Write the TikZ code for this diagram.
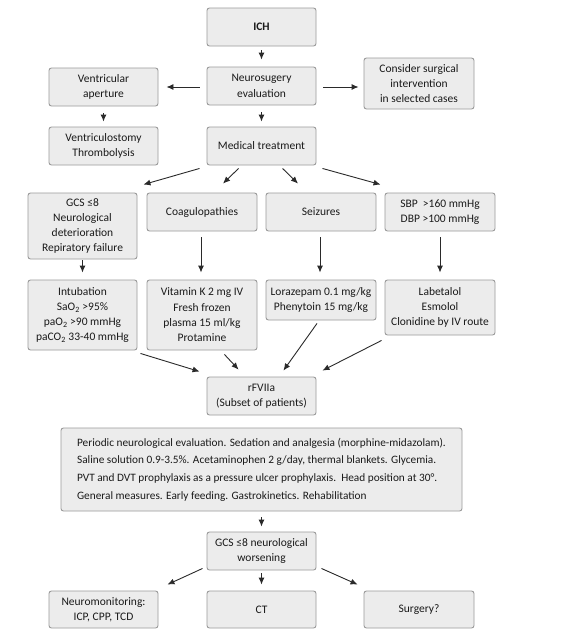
\documentclass[tikz,border=0pt]{standalone}
\usepackage{fontspec}
\setmainfont{Carlito}
\usetikzlibrary{calc,arrows.meta}
\definecolor{boxfill}{HTML}{ECECEC}
\definecolor{boxline}{HTML}{9A9A9A}
\definecolor{txt}{HTML}{1A1A1A}
\definecolor{arrcol}{HTML}{2A2A2A}
\begin{document}
\begin{tikzpicture}[x=1pt,y=-1pt,
  box/.style={draw=boxline,fill=boxfill,line width=0.9pt,rounded corners=2.5pt,
    align=center,inner sep=2pt,text=txt,minimum width=109pt,minimum height=38pt,
    font=\fontsize{11.5}{15.3}\selectfont},
  arr/.style={draw=arrcol,line width=0.9pt,-{Latex[length=7pt,width=6pt]}}]
\useasboundingbox (0,0) rectangle (566,637);
\fill[white] (0,0) rectangle (566,637);
% row 1
\node[box] (ich) at (261.5,27) {\textbf{ICH}};
\node[box] (neuro) at (261.5,86) {Neurosugery\\evaluation};
\node[box] (vent) at (103.5,87) {Ventricular\\aperture};
\node[box,minimum width=110pt,minimum height=51pt] (cons) at (419,83.5) {Consider surgical\\intervention\\in selected cases};
\node[box] (vstomy) at (103.5,146) {Ventriculostomy\\Thrombolysis};
\node[box] (med) at (261.5,146) {Medical treatment};
% row 3
\node[box,minimum height=66pt] (gcs) at (82.5,226) {GCS ≤8\\Neurological\\deterioration\\Repiratory failure};
\node[box,minimum width=110pt] (coag) at (202,212) {Coagulopathies};
\node[box,minimum width=110pt] (seiz) at (321,212) {Seizures};
\node[box,minimum width=110pt] (sbp) at (440,212) {SBP\ \ >160 mmHg\\DBP >100 mmHg};
% row 4
\node[box,minimum height=70pt] (intub) at (82.5,315) {Intubation\\SaO\textsubscript{2} >95\%\\paO\textsubscript{2} >90 mmHg\\paCO\textsubscript{2} 33-40 mmHg};
\node[box,minimum width=110pt,minimum height=70pt] (vitk) at (202,315) {Vitamin K 2 mg IV\\Fresh frozen\\plasma 15 ml/kg\\Protamine};
\node[box,minimum width=110pt,minimum height=40pt] (lora) at (321,300) {Lorazepam 0.1 mg/kg\\Phenytoin 15 mg/kg};
\node[box,minimum width=110pt,minimum height=55pt] (labe) at (440,307.5) {Labetalol\\Esmolol\\Clonidine by IV route};
% rFVIIa
\node[box] (rf) at (261.5,396) {rFVIIa\\(Subset of patients)};
\node[box,minimum width=401pt,minimum height=83pt,align=left,
  font=\fontsize{11.3}{17.7}\selectfont] (big) at (261.5,469.5)
  {Periodic neurological evaluation. Sedation and analgesia (morphine-midazolam).\\
   Saline solution 0.9-3.5\%. Acetaminophen 2 g/day, thermal blankets. Glycemia.\\
   PVT and DVT prophylaxis as a pressure ulcer prophylaxis.\ \ Head position at 30°.\\
   General measures. Early feeding. Gastrokinetics. Rehabilitation};
\node[box] (gw) at (261.5,551) {GCS ≤8 neurological\\worsening};
\node[box,minimum height=37pt] (nm) at (103.5,609.5) {Neuromonitoring:\\ICP, CPP, TCD};
\node[box,minimum height=37pt] (ct) at (261.5,609.5) {CT};
\node[box,minimum width=110pt,minimum height=37pt] (surg) at (419,609.5) {Surgery?};
% connectors
\draw[arr,shorten <=4pt,shorten >=7pt] (ich) -- (neuro);
\draw[arr] ($(neuro.west)+(-7,1)$) -- ($(vent.east)+(8,0)$);
\draw[arr] ($(neuro.east)+(7,1)$) -- ($(cons.west)+(-5,3.5)$);
\draw[arr,shorten <=7pt,shorten >=5pt] (vent) -- (vstomy);
\draw[arr,shorten <=7pt,shorten >=5pt] (neuro) -- (med);
\draw[arr] ($(med.south west)+(-7,3)$) -- ($(gcs.north east)+(6,-8)$);
\draw[arr] ($(med.south west)+(32,3)$) -- ($(coag.north)+(21,-9)$);
\draw[arr] ($(med.south west)+(76,3)$) -- ($(seiz.north)+(-23,-9)$);
\draw[arr] ($(med.south east)+(6,3)$) -- ($(sbp.north west)+(-4,-8)$);
\draw[arr,shorten <=1pt,shorten >=7pt] (gcs) -- (intub);
\draw[arr] ($(coag.south)+(-1,6)$) -- ($(vitk.north)+(-1,-7)$);
\draw[arr] ($(seiz.south)+(-1,6)$) -- ($(lora.north)+(-1,-7)$);
\draw[arr] ($(sbp.south)+(0,6)$) -- ($(labe.north)+(0,-7)$);
\draw[arr] ($(intub.south east)+(3,3)$) -- ($(rf.north west)+(-7,-5)$);
\draw[arr] ($(vitk.south east)+(-33,4)$) -- ($(rf.north west)+(32,-7)$);
\draw[arr] ($(lora.south)+(-4,3)$) -- ($(rf.north east)+(-33,-6)$);
\draw[arr] ($(labe.south west)+(-3,5)$) -- ($(rf.north east)+(6,-6)$);
\draw[arr,shorten <=6pt,shorten >=5pt] (big.south) -- (gw.north);
\draw[arr] ($(gw.south west)+(-4,-2)$) -- ($(nm.north east)+(9,-6)$);
\draw[arr,shorten <=3pt,shorten >=6pt] (gw) -- (ct);
\draw[arr] ($(gw.south east)+(5,-2)$) -- ($(surg.north west)+(-6,-6)$);
\end{tikzpicture}
\end{document}
